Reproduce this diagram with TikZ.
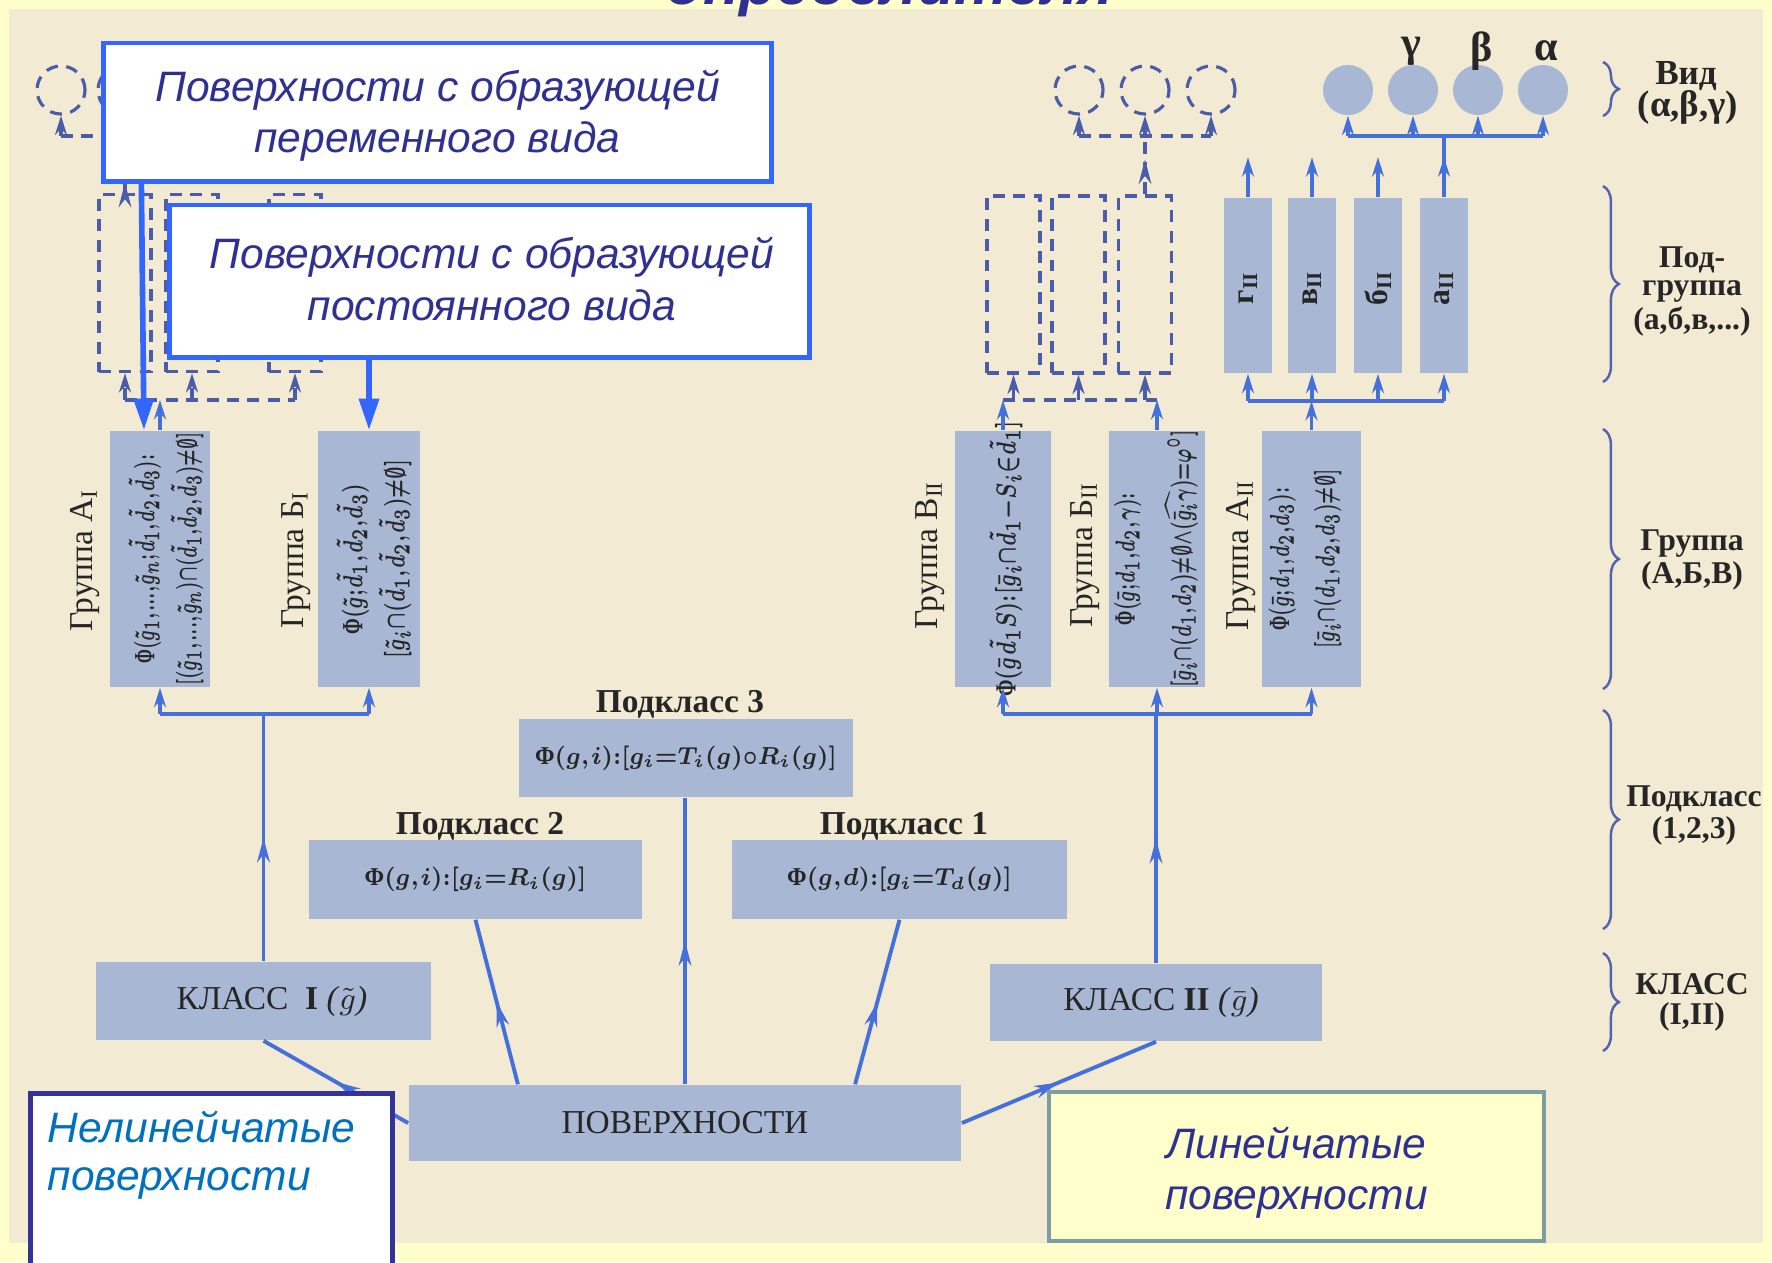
\documentclass[tikz,border=0pt]{standalone}
\usepackage{amsmath,amssymb}
\usepackage{graphicx}
\usepackage{fontspec}
\setmainfont{Liberation Serif}
\newfontfamily\sansf{Liberation Sans}
\usetikzlibrary{arrows.meta,decorations.markings,decorations.pathreplacing,calc}
\definecolor{pageyellow}{HTML}{FFFFCC}
\definecolor{paper}{HTML}{F2EAD2}
\definecolor{boxfill}{HTML}{A8B8D4}
\definecolor{boxtext}{HTML}{262626}
\definecolor{lineblue}{HTML}{4470DC}
\definecolor{dashblue}{HTML}{4B5CA8}
\definecolor{callblue}{HTML}{3366FF}
\definecolor{txtblue}{HTML}{2E3192}
\definecolor{nelblue}{HTML}{0070C0}
\definecolor{nelborder}{HTML}{333399}
\definecolor{linborder}{HTML}{7D9DA3}
\definecolor{linfill}{HTML}{FFFFCC}
\definecolor{bracecol}{HTML}{5363AE}
\newcommand\xTight{\thinmuskip=1mu\medmuskip=1mu plus 1mu\thickmuskip=1.5mu plus 1mu}
\newcommand\xCal{\sansf\itshape\fontsize{12.1}{14}\selectfont}
\newcommand\xTitle{\sansf\bfseries\itshape\fontsize{17}{20}\selectfont}
\newcommand\xBox{\fontsize{9.5}{11}\selectfont}
\newcommand\xLab{\bfseries\fontsize{9.5}{11}\selectfont}
\newcommand\xForm{\fontsize{7.3}{9}\selectfont\xTight\boldmath}
\newcommand\xRot{\fontsize{9.5}{11}\selectfont}
\newcommand\xRotF{\fontsize{6.4}{12}\selectfont\xTight\boldmath}
\newcommand\xBr{\bfseries\fontsize{9}{10}\selectfont}
\newcommand\xGr{\bfseries\fontsize{12}{14}\selectfont}
\newcommand\xSub{\bfseries\fontsize{9}{11}\selectfont}
\newcommand\xPhi{\textbf{Φ}}
\newcommand\xC[2]{\scalebox{#1}[1.3]{#2}}
\newcommand\xF[1]{\scalebox{0.92}[1]{#1}}
\tikzset{
  bx/.style={fill=boxfill, draw=none, inner sep=0pt, text=boxtext},
  dbox/.style={draw=dashblue, line width=0.9pt, dash pattern=on 3.4pt off 2.4pt, inner sep=0pt, minimum width=0.52cm, minimum height=1.77cm},
  dcirc/.style={circle, draw=dashblue, line width=0.9pt, dash pattern=on 3.4pt off 2.4pt, inner sep=0pt, minimum size=0.48cm},
  fcirc/.style={circle, fill=boxfill, inner sep=0pt, minimum size=0.50cm},
  conn/.style={draw=lineblue, line width=1.1pt},
  dsh/.style={draw=dashblue, line width=0.9pt, dash pattern=on 3.4pt off 2.4pt},
  endarrow/.style={-{Stealth[length=5.5pt,width=3.4pt]}},
  midarrow/.style={postaction={decorate}, decoration={markings, mark=at position #1 with {\arrow{Stealth[length=7pt,width=3.6pt]}}}},
  midarrow/.default=0.5,
  callout/.style={draw=callblue, line width=1.4pt, fill=white, inner sep=0pt},
  calltext/.style={text=txtblue, font=\xCal, anchor=base, inner sep=0pt},
  callarrow/.style={draw=callblue, line width=1.6pt, -{Triangle[length=9pt,width=5.5pt]}},
  brc/.style={draw=bracecol, line width=0.7pt, decorate, decoration={brace, amplitude=4.5pt}},
  brlab/.style={font=\xBr, text=boxtext, inner sep=0pt},
  lbl/.style={font=\xLab, text=boxtext, inner sep=0pt},
  grp/.style={font=\xRot, text=boxtext, rotate=90, inner sep=0pt},
  grpf/.style={font=\xRotF, text=boxtext, rotate=90, inner sep=0pt, align=center},
}
\begin{document}
\begin{tikzpicture}[x=0.01cm,y=-0.01cm]
\useasboundingbox (0,0) rectangle (1772,1262);
\fill[pageyellow] (0,0) rectangle (1772,1262);
\fill[paper] (9,9) rectangle (1763,1243);
\node[anchor=base, text=txtblue, font=\xTitle, inner sep=0pt] (title) at (890,4) {определителя};

% ---------- left (hidden) structure ----------
\node[dcirc] (lc1) at (61,90) {};
\node[dcirc] (lc2) at (122,90) {};
\node[dcirc] (lc3) at (183,90) {};
\coordinate (lcb) at (122,136);
\draw[dsh] (lc1.south |- lcb) -- (lc3.south |- lcb);
\draw[dsh,endarrow] (lc1.south |- lcb) -- (lc1.south);
\draw[dsh,endarrow] (lc2.south |- lcb) -- (lc2.south);
\draw[dsh,endarrow] (lc3.south |- lcb) -- (lc3.south);
\node[dbox] (ld1) at (125,283) {};
\node[dbox] (ld2) at (192,283) {};
\node[dbox] (ld3) at (295,283) {};
\draw[dsh,midarrow=0.18] (ld1.north) -- (ld1.north |- lcb);
\coordinate (ldb) at (200,400);
\draw[dsh] (ld1.south |- ldb) -- (ld3.south |- ldb);
\draw[dsh,endarrow] (ld1.south |- ldb) -- (ld1.south);
\draw[dsh,endarrow] (ld2.south |- ldb) -- (ld2.south);
\draw[dsh,endarrow] (ld3.south |- ldb) -- (ld3.south);

% ---------- groups I ----------
\node[bx, minimum width=1.00cm, minimum height=2.56cm] (gA1) at (160,559) {};
\node[bx, minimum width=1.02cm, minimum height=2.56cm] (gB1) at (369,559) {};
\node[grpf] (gA1t) at (166,559) {\xC{0.74}{\xPhi$(\tilde g_1,...,\tilde g_n;\tilde d_1,\tilde d_2,\tilde d_3){:}$}\\[0pt]\xC{0.74}{$[(\tilde g_1,...,\tilde g_n){\cap}(\tilde d_1,\tilde d_2,\tilde d_3){\neq}\emptyset]$}};
\node[grpf] (gB1t) at (374,559) {\xC{0.84}{\xPhi$(\tilde g;\tilde d_1,\tilde d_2,\tilde d_3)$}\\\xC{0.84}{$[\tilde g_i{\cap}(\tilde d_1,\tilde d_2,\tilde d_3){\neq}\emptyset]$}};
\node[grp] (lA1) at (85,560) {Группа А\textsubscript{I}};
\node[grp] (lB1) at (296,560) {Группа Б\textsubscript{I}};
\draw[conn,endarrow] (gA1.north) -- (gA1.north |- ldb);

% ---------- right dashed structure ----------
\node[dcirc] (rc1) at (1079,90) {};
\node[dcirc] (rc2) at (1145,90) {};
\node[dcirc] (rc3) at (1211,90) {};
\coordinate (rcb) at (1145,136);
\draw[dsh] (rc1.south |- rcb) -- (rc3.south |- rcb);
\draw[dsh,endarrow] (rc1.south |- rcb) -- (rc1.south);
\draw[dsh,endarrow] (rc2.south |- rcb) -- (rc2.south);
\draw[dsh,endarrow] (rc3.south |- rcb) -- (rc3.south);
\node[dbox, minimum width=0.53cm] (rd1) at (1013.5,284.5) {};
\node[dbox, minimum width=0.53cm] (rd2) at (1078.5,284.5) {};
\node[dbox, minimum width=0.53cm] (rd3) at (1145,284.5) {};
\draw[dsh,midarrow=0.6] (rd3.north) -- (rd3.north |- rcb);

% ---------- groups II ----------
\node[bx, minimum width=0.96cm, minimum height=2.56cm] (gV2) at (1003,559) {};
\node[bx, minimum width=0.96cm, minimum height=2.56cm] (gBb2) at (1157,559) {};
\node[bx, minimum width=0.99cm, minimum height=2.56cm] (gA2) at (1311.5,559) {};
\node[grpf] (gV2t) at (1006,559) {\xC{0.88}{\xPhi$(\bar g\,\tilde d_1S){:}[\bar g_i{\cap}\tilde d_1{-}S_i{\in}\tilde d_1]$}};
\node[grpf] (gBb2t) at (1156,559) {\xC{0.76}{\xPhi$(\bar g;d_1,d_2,\gamma){:}$}\\[4pt]\xC{0.76}{$[\bar g_i{\cap}(d_1,d_2){\neq}\emptyset{\wedge}(\widehat{\bar g_i\gamma}){=}\varphi^\circ]$}};
\node[grpf] (gA2t) at (1305,559) {\xC{0.76}{\xPhi$(\bar g;d_1,d_2,d_3){:}$}\\[1pt]\xC{0.76}{$[\bar g_i{\cap}(d_1,d_2,d_3){\neq}\emptyset]$}};
\node[grp] (lV2) at (930,555) {Группа В\textsubscript{II}};
\node[grp] (lBb2) at (1085,555) {Группа Б\textsubscript{II}};
\node[grp] (lA2) at (1241,555) {Группа А\textsubscript{II}};
\coordinate (rdb) at (1080,400);
\draw[dsh] (gV2.north |- rdb) -- (gBb2.north |- rdb);
\draw[dsh,endarrow] (rd1.south |- rdb) -- (rd1.south);
\draw[dsh,endarrow] (rd2.south |- rdb) -- (rd2.south);
\draw[dsh,endarrow] (rd3.south |- rdb) -- (rd3.south);
\draw[conn,endarrow] (gV2.north) -- (gV2.north |- rdb);
\draw[conn,endarrow] (gBb2.north) -- (gBb2.north |- rdb);

% ---------- filled subgroups and species ----------
\node[fcirc] (fc1) at (1348,90) {};
\node[fcirc] (fc2) at (1413,90) {};
\node[fcirc] (fc3) at (1478,90) {};
\node[fcirc] (fc4) at (1543,90) {};
\node[font=\xGr, text=boxtext, inner sep=0pt] (gam) at (1411,51) {γ};
\node[font=\xGr, text=boxtext, inner sep=0pt] (bet) at (1482,51) {β};
\node[font=\xGr, text=boxtext, inner sep=0pt] (alp) at (1546,51) {α};
\coordinate (fcb) at (1444,136);
\draw[conn] (fc1.south |- fcb) -- (fc4.south |- fcb);
\draw[conn,endarrow] (fc1.south |- fcb) -- (fc1.south);
\draw[conn,endarrow] (fc2.south |- fcb) -- (fc2.south);
\draw[conn,endarrow] (fc3.south |- fcb) -- (fc3.south);
\draw[conn,endarrow] (fc4.south |- fcb) -- (fc4.south);
\node[bx, minimum width=0.48cm, minimum height=1.75cm] (sg) at (1248,285.5) {};
\node[bx, minimum width=0.48cm, minimum height=1.75cm] (sv) at (1312,285.5) {};
\node[bx, minimum width=0.48cm, minimum height=1.75cm] (sb) at (1378,285.5) {};
\node[bx, minimum width=0.48cm, minimum height=1.75cm] (sa) at (1444,285.5) {};
\node[font=\xSub, text=boxtext, rotate=90, inner sep=0pt] (sgt) at (1248,288) {г\textsubscript{II}};
\node[font=\xSub, text=boxtext, rotate=90, inner sep=0pt] (svt) at (1312,288) {в\textsubscript{II}};
\node[font=\xSub, text=boxtext, rotate=90, inner sep=0pt] (sbt) at (1378,288) {б\textsubscript{II}};
\node[font=\xSub, text=boxtext, rotate=90, inner sep=0pt] (sat) at (1444,288) {а\textsubscript{II}};
\draw[conn,endarrow] (sg.north) -- ([yshift=0.40cm]sg.north);
\draw[conn,endarrow] (sv.north) -- ([yshift=0.40cm]sv.north);
\draw[conn,endarrow] (sb.north) -- ([yshift=0.40cm]sb.north);
\draw[conn] (sa.north) -- (sa.north |- fcb);
\draw[conn,endarrow] (sa.north) -- ([yshift=0.40cm]sa.north);
\coordinate (sbar) at (1346,401);
\draw[conn] (sg.south |- sbar) -- (sa.south |- sbar);
\draw[conn,endarrow] (sg.south |- sbar) -- (sg.south);
\draw[conn,endarrow] (sv.south |- sbar) -- (sv.south);
\draw[conn,endarrow] (sb.south |- sbar) -- (sb.south);
\draw[conn,endarrow] (sa.south |- sbar) -- (sa.south);
\draw[conn,endarrow] (gA2.north) -- (gA2.north |- sbar);

% ---------- classes and subclasses ----------
\node[bx, font=\xBox, minimum width=5.52cm, minimum height=0.76cm] (pov) at (685,1123) {ПОВЕРХНОСТИ};
\node[bx, font=\xBox, minimum width=3.35cm, minimum height=0.78cm] (k1) at (263.5,1001) {\hspace*{0.5em}КЛАСС\ \ \textbf{I}\ \textit{(}$\tilde{g}$\textit{)}};
\node[bx, font=\xBox, minimum width=3.32cm, minimum height=0.77cm] (k2) at (1156,1002.5) {\hspace*{0.3em}КЛАСС\ \textbf{II}\ \textit{(}$\bar{g}$\textit{)}};
\node[bx, font=\xForm, minimum width=3.33cm, minimum height=0.79cm] (p2) at (475.5,879.5) {\xF{\xPhi$(g,i){:}[g_i{=}R_i(g)]$}};
\node[bx, font=\xForm, minimum width=3.35cm, minimum height=0.79cm] (p1) at (899.5,879.5) {\xF{\xPhi$(g,d){:}[g_i{=}T_d(g)]$}};
\node[bx, font=\xForm, minimum width=3.34cm, minimum height=0.78cm] (p3) at (686,758) {\xF{\xPhi$(g,i){:}[g_i{=}T_i(g){\circ}R_i(g)]$}};
\node[lbl] (p3l) at (680,704) {Подкласс 3};
\node[lbl] (p2l) at (480,826) {Подкласс 2};
\node[lbl] (p1l) at (904,826) {Подкласс 1};

\coordinate (lbar) at (263.5,714);
\draw[conn] (gA1.south |- lbar) -- (gB1.south |- lbar);
\draw[conn,endarrow] (gA1.south |- lbar) -- (gA1.south);
\draw[conn,endarrow] (gB1.south |- lbar) -- (gB1.south);
\draw[conn,midarrow] (k1.north) -- (lbar);
\coordinate (rbar) at (1156,714);
\draw[conn] (gV2.south |- rbar) -- (gA2.south |- rbar);
\draw[conn,endarrow] (gV2.south |- rbar) -- (gV2.south);
\draw[conn,endarrow] (gBb2.south |- rbar) -- (gBb2.south);
\draw[conn,endarrow] (gA2.south |- rbar) -- (gA2.south);
\draw[conn,midarrow] (k2.north) -- (rbar);

\draw[conn,midarrow] (pov.west) -- (k1.south);
\draw[conn,midarrow] (pov.east) -- (k2.south);
\draw[conn,midarrow] ([xshift=-1.67cm]pov.north) -- (p2.south);
\draw[conn,midarrow] (pov.north) -- (pov.north |- p3.south);
\draw[conn,midarrow] ([xshift=1.70cm]pov.north) -- (p1.south);

% ---------- braces ----------
\draw[brc] (1603,62) -- (1603,116);
\draw[brc] (1603,186) -- (1603,382);
\draw[brc] (1603,429) -- (1603,689);
\draw[brc] (1603,710) -- (1603,929);
\draw[brc] (1603,953) -- (1603,1051);
\node[brlab, font=\bfseries\fontsize{10}{11}\selectfont] (b1a) at (1686,76) {Вид};
\node[brlab, font=\bfseries\fontsize{10.5}{11}\selectfont] (b1b) at (1688,107) {(α,β,γ)};
\node[brlab] (b2a) at (1692,260) {Под-};
\node[brlab] (b2b) at (1692,291) {группа};
\node[brlab] (b2c) at (1692,322) {(а,б,в,...)};
\node[brlab] (b3a) at (1692,544) {Группа};
\node[brlab] (b3b) at (1692,576) {(А,Б,В)};
\node[brlab] (b4a) at (1694,799) {Подкласс};
\node[brlab] (b4b) at (1694,831) {(1,2,3)};
\node[brlab] (b5a) at (1692,984) {КЛАСС};
\node[brlab] (b5b) at (1692,1017) {(I,II)};
\fill[pageyellow] (1763,0) rectangle (1772,1262);

% ---------- callouts ----------
\node[callout, minimum width=6.67cm, minimum height=1.38cm] (c1) at (437.5,112) {};
\node[calltext] (c1a) at (437.5,101) {Поверхности с образующей};
\node[calltext] (c1b) at (437.5,152) {переменного вида};
\node[callout, minimum width=6.39cm, minimum height=1.52cm] (c2) at (489.5,281) {};
\node[calltext] (c2a) at (492,268) {Поверхности с образующей};
\node[calltext] (c2b) at (492,320) {постоянного вида};
\draw[callarrow] ([xshift=0.40cm]c1.south west) -- ([xshift=-0.16cm]gA1.north);
\draw[callarrow] (c2.south -| gB1.north) -- (gB1.north);

\node[draw=nelborder, line width=1.3pt, fill=white, inner sep=0pt, minimum width=3.62cm, minimum height=1.95cm, anchor=north west] (nel) at (28,1091) {};
\node[anchor=base west, text=nelblue, font=\xCal, inner sep=0pt] (nela) at (47,1142) {Нелинейчатые};
\node[anchor=base west, text=nelblue, font=\xCal, inner sep=0pt] (nelb) at (47,1190) {поверхности};
\node[draw=linborder, line width=1.2pt, fill=linfill, inner sep=0pt, minimum width=4.95cm, minimum height=1.49cm] (lin) at (1296.5,1166.5) {};
\node[calltext] (lina) at (1296.5,1158) {Линейчатые};
\node[calltext] (linb) at (1296.5,1209) {поверхности};
\end{tikzpicture}
\end{document}
